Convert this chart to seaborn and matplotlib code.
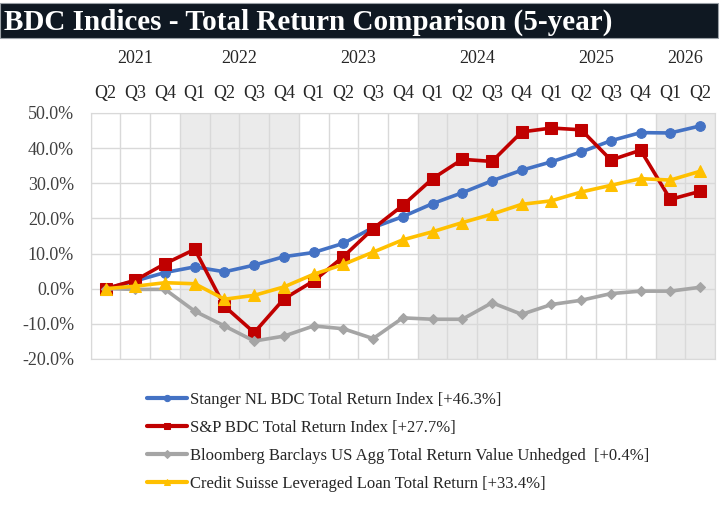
import numpy as np
import pandas as pd
import seaborn as sns
import matplotlib.pyplot as plt
import matplotlib.transforms as mtransforms

# quarterly points, Q2 2021 .. Q2 2026
quarters = ['Q2', 'Q3', 'Q4',
            'Q1', 'Q2', 'Q3', 'Q4',
            'Q1', 'Q2', 'Q3', 'Q4',
            'Q1', 'Q2', 'Q3', 'Q4',
            'Q1', 'Q2', 'Q3', 'Q4',
            'Q1', 'Q2']
years = ['2021', '2022', '2023', '2024', '2025', '2026']
year_span = [(0, 2), (3, 6), (7, 10), (11, 14), (15, 18), (19, 20)]
shaded_years = [1, 3, 5]

stanger = [0.0, 2.2, 4.6, 6.2, 4.8, 6.7, 9.1, 10.3, 12.9, 17.4, 20.5,
           24.2, 27.3, 30.7, 33.7, 36.1, 38.9, 42.1, 44.4, 44.3, 46.3]
sp_bdc = [0.0, 2.4, 7.1, 11.2, -5.0, -12.5, -2.9, 2.2, 9.1, 17.1, 23.7,
          31.3, 36.8, 36.2, 44.6, 45.7, 45.2, 36.6, 39.4, 25.4, 27.7]
bbg_agg = [0.0, -0.2, -0.2, -6.4, -10.6, -14.9, -13.5, -10.6, -11.4, -14.2, -8.3,
           -8.7, -8.7, -4.0, -7.3, -4.5, -3.3, -1.4, -0.7, -0.7, 0.4]
cs_loan = [0.0, 0.7, 1.7, 1.4, -3.0, -1.9, 0.5, 4.1, 6.9, 10.4, 13.9,
           16.2, 18.8, 21.2, 24.0, 25.0, 27.5, 29.4, 31.3, 30.9, 33.4]

names = ['Stanger NL BDC Total Return Index [+46.3%]',
         'S&P BDC Total Return Index [+27.7%]',
         'Bloomberg Barclays US Agg Total Return Value Unhedged  [+0.4%]',
         'Credit Suisse Leveraged Loan Total Return [+33.4%]']
colors = ['#4472C4', '#C00000', '#A5A5A5', '#FFC000']
marks = ['o', 's', 'D', '^']
msizes = [7, 9, 5, 8]

series = [stanger, sp_bdc, bbg_agg, cs_loan]
frames = []
for n, s in zip(names, series):
    frames.append(pd.DataFrame({'x': np.arange(len(s)), 'val': s, 'series': n}))
df = pd.concat(frames, ignore_index=True)

sns.set_style('white')
plt.rcParams['font.family'] = ['Liberation Serif', 'DejaVu Serif']

fig = plt.figure(figsize=(7.2, 5.11), dpi=100)
ax = fig.add_axes([0.126, 0.2975, 0.867, 0.4815])

# title bar
fig.patches.append(plt.Rectangle((0.0, 0.925), 0.997, 0.07, transform=fig.transFigure,
                                 facecolor='#0f1822', edgecolor='#9aa0a6', lw=0.8, zorder=0))
fig.text(0.006, 0.957, 'BDC Indices - Total Return Comparison (5-year)', color='white',
         fontsize=21, fontweight='bold', va='center', ha='left')

for yi in shaded_years:
    a, b = year_span[yi]
    ax.axvspan(a - 0.5, b + 0.5, color='#ebebeb', zorder=0, lw=0)

for i in range(len(quarters) + 1):
    ax.axvline(i - 0.5, color='#d9d9d9', lw=1.0, zorder=1)
for v in range(-20, 51, 10):
    ax.axhline(v, color='#d9d9d9', lw=1.0, zorder=1)

for n, c, m, ms in zip(names, colors, marks, msizes):
    sub = df[df['series'] == n]
    sns.lineplot(data=sub, x='x', y='val', ax=ax, color=c, lw=2.6, marker=m,
                 markersize=ms, markeredgecolor=c, label=n, zorder=3)

ax.set_xlim(-0.5, len(quarters) - 0.5)
ax.set_ylim(-20, 50)
ax.set_xticks(np.arange(len(quarters)))
ax.set_xticklabels(quarters)
ax.xaxis.tick_top()
ax.tick_params(axis='x', length=0, pad=8, labelsize=13, labelcolor='#262626')
ax.set_yticks(range(-20, 51, 10))
ax.set_yticklabels(['%.1f%%' % v for v in range(-20, 51, 10)])
ax.tick_params(axis='y', length=0, pad=12, labelsize=13, labelcolor='#404040')
ax.set_xlabel('')
ax.set_ylabel('')
for sp in ax.spines.values():
    sp.set_color('#d9d9d9')

trans = mtransforms.blended_transform_factory(ax.transData, ax.transAxes)
for yr, (a, b) in zip(years, year_span):
    ax.text((a + b) / 2, 1.22, yr, transform=trans, ha='center', va='center',
            fontsize=13, color='#262626')

handles, labels = ax.get_legend_handles_labels()
leg = ax.legend(handles, labels, loc='upper left', bbox_to_anchor=(0.183, 0.262),
                bbox_transform=fig.transFigure, frameon=False, fontsize=12,
                handlelength=2.4, handletextpad=0.2, labelspacing=0.72,
                labelcolor='#262626')
for ln in leg.get_lines():
    ln.set_markersize(4.5)
    ln.set_linewidth(3)

fig.savefig('out.png', dpi=100)
